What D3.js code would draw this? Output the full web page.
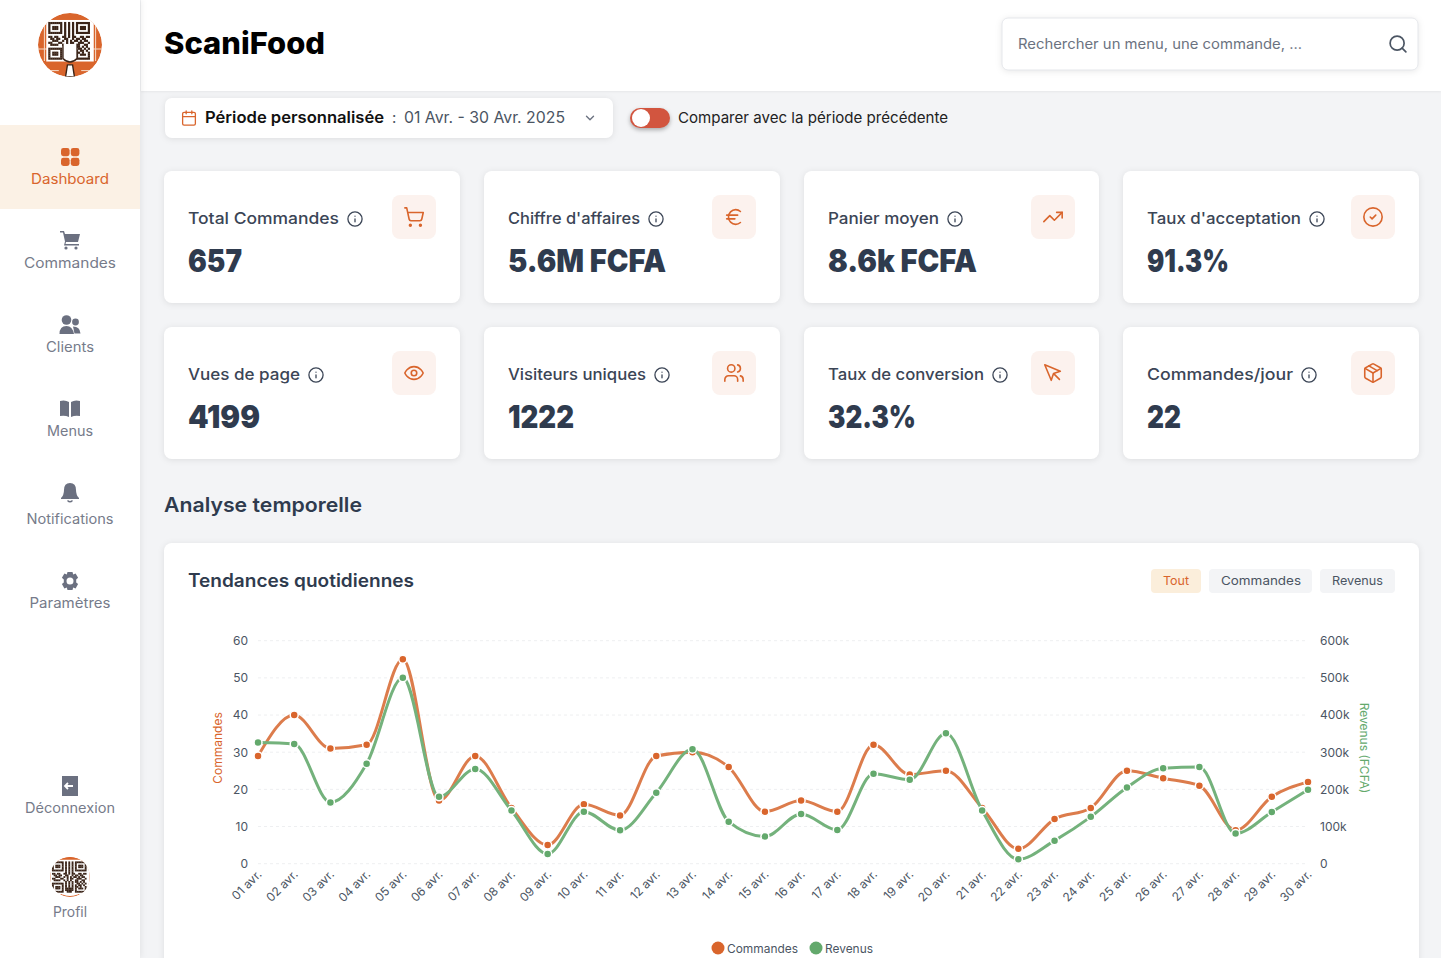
<!DOCTYPE html>
<html lang="fr">
<head>
<meta charset="utf-8">
<title>ScaniFood</title>
<script src="https://cdn.jsdelivr.net/npm/d3@7"></script>
<style>
  html, body { margin: 0; padding: 0; background: #f3f4f6; overflow: hidden; }
  svg { display: block; font-family: Inter, sans-serif; }
  .card { filter: drop-shadow(0 1px 3px rgba(0,0,0,.09)); }
  .ico { fill: none; stroke-linecap: round; stroke-linejoin: round; }
</style>
</head>
<body>
<div id="page"></div>
<script>
// chart data
var days = ["01 avr.","02 avr.","03 avr.","04 avr.","05 avr.","06 avr.","07 avr.","08 avr.","09 avr.","10 avr.",
            "11 avr.","12 avr.","13 avr.","14 avr.","15 avr.","16 avr.","17 avr.","18 avr.","19 avr.","20 avr.",
            "21 avr.","22 avr.","23 avr.","24 avr.","25 avr.","26 avr.","27 avr.","28 avr.","29 avr.","30 avr."];
var commandes = [29,40,31,32,55,17,29,15,5,16,13,29,30,26,14,17,14,32,24,25,15,4,12,15,25,23,21,9,18,22];
var revenus = [326000,322000,165000,269000,500000,180000,255000,143000,26000,140000,90000,191000,308000,113000,73000,
               134000,91000,242000,226000,351000,143000,12000,62000,126000,205000,257000,260000,81000,139000,199000];
var commandesTicks = [0,10,20,30,40,50,60];
var revenusTicks = [0,100000,200000,300000,400000,500000,600000];

// kpi cards
var kpiLabels = ["Total Commandes","Chiffre d'affaires","Panier moyen","Taux d'acceptation",
                 "Vues de page","Visiteurs uniques","Taux de conversion","Commandes/jour"];
var kpiValues = ["657","5.6M FCFA","8.6k FCFA","91.3%","4199","1222","32.3%","22"];
var kpiLabelW = [151,132,111,154,112,138,156,146];
var kpiValueW = [54,158,149,82,72,66,88,34];
var kpiIcons = ["cart","euro","trend","check","eye","users","pointer","box"];

var navLabels = ["Dashboard","Commandes","Clients","Menus","Notifications","Paramètres","Déconnexion","Profil"];
var navBase = [184,268,352,436,524,608,813,917];
var navW = [78,92,48,46,87,81,90,34];

var ORANGE = "#d9652c", GREEN = "#63a96c", DARK = "#2f3b4e", GRAY = "#6b7280";

var svg = d3.select("#page").append("svg").attr("width", 1441).attr("height", 958);
svg.append("rect").attr("width", 1441).attr("height", 958).attr("fill", "#f3f4f6");

function txt(str, x, y, size, weight, fill, w, anchor, font) {
    var t = svg.append("text").attr("x", x).attr("y", y)
        .attr("font-size", size).attr("font-weight", weight).attr("fill", fill)
        .attr("text-anchor", anchor || "start").text(str);
    if (font) t.attr("font-family", font);
    if (w) t.attr("textLength", w).attr("lengthAdjust", "spacingAndGlyphs");
    return t;
}

function box(x, y, w, h, r, fill, cls) {
    return svg.append("rect").attr("x", x).attr("y", y).attr("width", w).attr("height", h)
        .attr("rx", r).attr("fill", fill).attr("class", cls || null);
}

// 24x24 outline icons
var iconParts = {
    cart: ["M2.05 2.05h2l2.66 12.42a2 2 0 0 0 2 1.58h9.78a2 2 0 0 0 1.95-1.57l1.65-7.43H5.12", "M8 20a1 1 0 1 0 0 2 1 1 0 0 0 0-2z", "M19 20a1 1 0 1 0 0 2 1 1 0 0 0 0-2z"],
    euro: ["M4 10h12", "M4 14h9", "M19 6a7.7 7.7 0 0 0-5.2-2A7.9 7.9 0 0 0 6 12c0 4.4 3.5 8 7.8 8 2 0 3.8-.8 5.2-2"],
    trend: ["M22 7 13.5 15.5 8.5 10.5 2 17", "M16 7h6v6"],
    check: ["M12 2a10 10 0 1 0 0 20 10 10 0 0 0 0-20z", "m9 12 2 2 4-4"],
    eye: ["M2 12s3-7 10-7 10 7 10 7-3 7-10 7-10-7-10-7Z", "M12 9a3 3 0 1 0 0 6 3 3 0 0 0 0-6z"],
    users: ["M16 21v-2a4 4 0 0 0-4-4H6a4 4 0 0 0-4 4v2", "M9 3a4 4 0 1 0 0 8 4 4 0 0 0 0-8z", "M22 21v-2a4 4 0 0 0-3-3.87", "M16 3.13a4 4 0 0 1 0 7.75"],
    pointer: ["m3 3 7.07 16.97 2.51-7.39 7.39-2.51L3 3z", "m13 13 6 6"],
    box: ["M21 16V8a2 2 0 0 0-1-1.73l-7-4a2 2 0 0 0-2 0l-7 4A2 2 0 0 0 3 8v8a2 2 0 0 0 1 1.73l7 4a2 2 0 0 0 2 0l7-4A2 2 0 0 0 21 16z", "m3.3 7 8.7 5 8.7-5", "M12 22V12", "m7.5 4.27 9 5.15"],
    calendar: ["M5 4h14a2 2 0 0 1 2 2v14a2 2 0 0 1-2 2H5a2 2 0 0 1-2-2V6a2 2 0 0 1 2-2z", "M16 2v4", "M8 2v4", "M3 10h18"],
    search: ["M11 3a8 8 0 1 0 0 16 8 8 0 0 0 0-16z", "m21 21-4.3-4.3"],
    info: ["M12 2a10 10 0 1 0 0 20 10 10 0 0 0 0-20z", "M12 16v-4", "M12 8h.01"],
    chevron: ["m6 9 6 6 6-6"]
};

function icon(name, cx, cy, size, color, sw) {
    var s = size / 24;
    var g = svg.append("g").attr("class", "ico")
        .attr("transform", "translate(" + (cx - size / 2) + "," + (cy - size / 2) + ") scale(" + s + ")")
        .attr("stroke", color).attr("stroke-width", sw / s);
    iconParts[name].forEach(function(d) { g.append("path").attr("d", d); });
}

// small qr + fork logo
var qrRows = [
    "1111111010101011111110",
    "1000001010101010000010",
    "1011101010101010111010",
    "1011101010101010111010",
    "1000001010101010000010",
    "1111111010101011111110",
    "0000000010101000000000",
    "1101100110101100110110",
    "0110110011001011011000",
    "0011100101010110101100",
    "1100011001011001110010",
    "0111100101010011001100",
    "0000000010101011010100",
    "1111111010101001101010",
    "1000001010101010110100",
    "1011101010101011010010",
    "1011101011111010111010",
    "1000001011111010000010",
    "1111111001110011111110"
];

function logo(cx, cy, r, main) {
    var id = "clip" + Math.round(cx + cy);
    svg.append("clipPath").attr("id", id).append("circle").attr("cx", cx).attr("cy", cy).attr("r", r);
    var g = svg.append("g").attr("clip-path", "url(#" + id + ")");
    g.append("circle").attr("cx", cx).attr("cy", cy).attr("r", r).attr("fill", main ? ORANGE : "#fff");
    if (!main) {
        g.append("rect").attr("x", cx - r).attr("y", cy - r).attr("width", r * 2).attr("height", r * 0.3).attr("fill", ORANGE);
        g.append("circle").attr("cx", cx).attr("cy", cy).attr("r", r - .5).attr("fill", "none").attr("stroke", ORANGE).attr("stroke-width", 1);
    } else {
        // thin white rim decoration
        g.append("path").attr("d", "M" + (cx - r) + " " + (cy + 4) + "h" + (2 * r) + "M" + (cx - r * .8) + " " + (cy - r * .6) + "v" + (r * 1.1) + "M" + (cx + r * .8) + " " + (cy - r * .6) + "v" + (r * 1.1))
            .attr("stroke", "#f6dcc9").attr("stroke-width", 1).attr("fill", "none");
        g.append("path").attr("d", "M" + (cx - r * .7) + " " + (cy + r * .8) + "h" + (r * .35) + "M" + (cx + r * .35) + " " + (cy + r * .8) + "h" + (r * .35))
            .attr("stroke", "#f6dcc9").attr("stroke-width", 1);
    }
    var side = main ? r * 1.36 : r * 1.8, cell = side / 22, x0 = cx - side / 2, y0 = cy - r * (main ? .72 : .78);
    g.append("rect").attr("x", x0 - cell).attr("y", y0 - cell).attr("width", side + 2 * cell)
        .attr("height", side * 19 / 22 + 2 * cell).attr("fill", "#fff");
    qrRows.forEach(function(row, j) {
        row.split("").forEach(function(c, i) {
            if (c === "1") g.append("rect").attr("x", x0 + i * cell).attr("y", y0 + j * cell)
                .attr("width", cell + .2).attr("height", cell + .2).attr("fill", "#3a2418");
        });
    });
    if (main) {
        // fork
        var fy = cy + r * .42;
        g.append("path").attr("d", "M" + (cx - r * .22) + " " + (fy - r * .45) + "V" + fy + "Q" + cx + " " + (fy + r * .22) + " " + (cx + r * .22) + " " + fy + "V" + (fy - r * .45))
            .attr("fill", "#fff").attr("stroke", "#3a2418").attr("stroke-width", 1.4);
        g.append("path").attr("d", "M" + (cx - r * .08) + " " + (fy + r * .2) + "L" + (cx - r * .14) + " " + (cy + r) + "H" + (cx + r * .14) + "L" + (cx + r * .08) + " " + (fy + r * .2) + "Z")
            .attr("fill", "#fff").attr("stroke", "#3a2418").attr("stroke-width", 1.4);
    }
}

// page chrome
box(141, 0, 1300, 91, 0, "#fff").style("filter", "drop-shadow(0 1px 1px rgba(0,0,0,.05))");
box(0, 0, 140, 958, 0, "#fff").style("filter", "drop-shadow(1px 0 3px rgba(0,0,0,.07))");
box(0, 125, 140, 84, 0, "#fbf1e5");

logo(70, 45, 32, true);
logo(70, 877, 20, false);

txt("ScaniFood", 164, 54, 30, 800, "#000", 161);

box(1002, 18, 416, 52, 6, "#fff", "card").attr("stroke", "#e5e7eb");
txt("Rechercher un menu, une commande, ...", 1018, 49, 14, 400, GRAY, 284);
icon("search", 1398, 44, 21, "#4b5563", 1.7);

// nav icons
d3.range(4).forEach(function(i) {
    box(61 + (i % 2) * 9.8, 148 + (i > 1 ? 9.8 : 0), 8.6, 8.2, 2.4, ORANGE);
});
var navFill = "#6b7080";
svg.append("path").attr("fill", navFill).attr("d", "M60 231h4l1 3h15l-2 8H66l-.5 2H79v1.6H64l1-4-2-9h-3z");
svg.append("circle").attr("cx", 66).attr("cy", 248).attr("r", 1.6).attr("fill", navFill);
svg.append("circle").attr("cx", 76).attr("cy", 248).attr("r", 1.6).attr("fill", navFill);
svg.append("circle").attr("cx", 66.5).attr("cy", 320).attr("r", 4.8).attr("fill", navFill);
svg.append("path").attr("fill", navFill).attr("d", "M59.5 334q0-8 7-8 6 0 7.500 8z");
svg.append("circle").attr("cx", 75.500).attr("cy", 322).attr("r", 3.4).attr("fill", navFill);
svg.append("path").attr("fill", navFill).attr("d", "M73 326.500q7 0 7.500 7h-6z");
svg.append("path").attr("fill", navFill).attr("d", "M60 401q5-1.500 9 1v15q-4-2-9-1zM71 402q4-2.500 9-1v15q-5-1-9 1z");
svg.append("path").attr("fill", navFill).attr("d", "M70 483q6 0 6 7 0 5 3 8v1H61v-1q3-3 3-8 0-7 6-7z");
svg.append("path").attr("fill", "none").attr("stroke", navFill).attr("stroke-width", 1.4).attr("d", "M67.500 500.500q2.500 2.500 5 0");
svg.append("path").attr("fill", navFill).attr("fill-rule", "evenodd")
    .attr("d", "M67.500 572h5l.7 2.400 2.400-.9 2.500 4.300-1.900 1.700v2.900l1.900 1.700-2.500 4.300-2.400-.9-.7 2.500h-5l-.7-2.500-2.400.9-2.500-4.300 1.900-1.700v-2.900l-1.900-1.700 2.500-4.300 2.400.9zM70 577.500a3.500 3.500 0 1 0 0 7 3.500 3.500 0 0 0 0-7z");
box(62, 776, 16, 20, 0, navFill);
svg.append("path").attr("fill", "none").attr("stroke", "#fff").attr("stroke-width", 1.8).attr("d", "M73 786h-8M68 783l-3 3 3 3");

navLabels.forEach(function(n, i) {
    txt(n, 70, navBase[i], 14, 400, i === 0 ? ORANGE : "#767b8a", navW[i], "middle");
});

// period bar
box(165, 98, 448, 40, 7, "#fff", "card");
icon("calendar", 189, 118, 17, ORANGE, 1.3);
txt("Période personnalisée", 205, 123, 16, 600, "#111", 179);
txt(":", 392, 123, 15, 400, "#4b5563");
txt("01 Avr. - 30 Avr. 2025", 404, 123, 16, 400, "#4b5563", 161);
icon("chevron", 590, 118, 14, "#6b7280", 1.4);
box(630, 108, 40, 20, 10, "#d2553f").style("filter", "drop-shadow(0 2px 2px rgba(0,0,0,.3))");
svg.append("circle").attr("cx", 641).attr("cy", 118).attr("r", 9).attr("fill", "#fff");
txt("Comparer avec la période précédente", 678, 123, 15, 400, "#222", 270);

// kpi cards
var cardX = [164, 484, 804, 1123];
var cardW = [296, 296, 295, 296];
kpiLabels.forEach(function(label, i) {
    var col = i % 4, row = i > 3 ? 1 : 0;
    var x = cardX[col], y = 171 + row * 156;
    box(x, y, cardW[col], 132, 8, "#fff", "card");
    txt(label, x + 24, y + 53, 16, 500, "#3b4556", kpiLabelW[i]);
    icon("info", x + 24 + kpiLabelW[i] + 16, y + 48, 17, "#3b4556", 1.3);
    box(x + cardW[col] - 68, y + 24, 44, 44, 8, "#fcf2ee");
    icon(kpiIcons[i], x + cardW[col] - 46, y + 46, 22, ORANGE, 1.6);
    txt(kpiValues[i], x + 24, y + 101, 31, 900, DARK, kpiValueW[i]);
});

txt("Analyse temporelle", 164, 512, 20, 600, DARK, 198);

// chart card
box(164, 543, 1255, 430, 8, "#fff", "card");
txt("Tendances quotidiennes", 188, 587, 18, 600, DARK, 226);

box(1151, 569, 50, 24, 4, "#fbeedb");
box(1209, 569, 103, 24, 4, "#f3f4f6");
box(1320, 569, 75, 24, 4, "#f3f4f6");
txt("Tout", 1163, 585, 12, 400, ORANGE, 26);
txt("Commandes", 1221, 585, 12, 400, "#4b5563", 80);
txt("Revenus", 1332, 585, 12, 400, "#4b5563", 51);

// scales
var x = d3.scalePoint().domain(days).range([258, 1308]);
var yCmd = d3.scaleLinear().domain([0, 60]).range([863.7, 640.7]);
var yRev = d3.scaleLinear().domain([0, 600000]).range([863.7, 640.7]);

// grid
svg.append("g").selectAll("line").data(commandesTicks).enter().append("line")
    .attr("x1", 258).attr("x2", 1308)
    .attr("y1", function(d) { return yCmd(d); }).attr("y2", function(d) { return yCmd(d); })
    .attr("stroke", "#eeeff1").attr("stroke-dasharray", "3 3");

// axes
function styleAxis(g) {
    g.select(".domain").remove();
    g.selectAll(".tick line").remove();
    g.selectAll("text").attr("font-size", 12).attr("font-family", "Inter, sans-serif").attr("fill", "#4b5563");
}
svg.append("g").attr("transform", "translate(258,0)")
    .call(d3.axisLeft(yCmd).tickValues(commandesTicks).tickSize(0).tickPadding(10)).call(styleAxis);
svg.append("g").attr("transform", "translate(1308,0)")
    .call(d3.axisRight(yRev).tickValues(revenusTicks).tickSize(0).tickPadding(12)
        .tickFormat(function(d) { return d === 0 ? "0" : d / 1000 + "k"; }))
    .call(styleAxis);
var xAxis = svg.append("g").attr("transform", "translate(0,864)")
    .call(d3.axisBottom(x).tickSize(0)).call(styleAxis);
xAxis.selectAll("text")
    .attr("text-anchor", "end").attr("dy", 0).attr("y", 0)
    .attr("transform", "translate(4,11) rotate(-45)");

svg.append("text").attr("transform", "translate(222,748) rotate(-90)").attr("text-anchor", "middle")
    .attr("font-size", 12).attr("fill", ORANGE).text("Commandes");
svg.append("text").attr("transform", "translate(1360,748) rotate(90)").attr("text-anchor", "middle")
    .attr("font-size", 12).attr("fill", GREEN).text("Revenus (FCFA)");

function drawSeries(values, y, lineColor, dotColor) {
    var line = d3.line()
        .x(function(d, i) { return x(days[i]); })
        .y(function(d) { return y(d); })
        .curve(d3.curveMonotoneX);
    svg.append("path").datum(values).attr("d", line)
        .attr("fill", "none").attr("stroke", lineColor).attr("stroke-width", 3);
    svg.append("g").selectAll("circle").data(values).enter().append("circle")
        .attr("cx", function(d, i) { return x(days[i]); })
        .attr("cy", function(d) { return y(d); })
        .attr("r", 4).attr("fill", dotColor).attr("stroke", "#fff").attr("stroke-width", 1.5);
}
drawSeries(commandes, yCmd, "#dc7c4c", ORANGE);
drawSeries(revenus, yRev, "#74b27c", GREEN);

// legend
svg.append("circle").attr("cx", 718).attr("cy", 948).attr("r", 6.5).attr("fill", ORANGE);
txt("Commandes", 727, 953, 12, 400, "#4b5563", 71);
svg.append("circle").attr("cx", 816).attr("cy", 948).attr("r", 6.5).attr("fill", GREEN);
txt("Revenus", 825, 953, 12, 400, "#4b5563", 48);
</script>
</body>
</html>
